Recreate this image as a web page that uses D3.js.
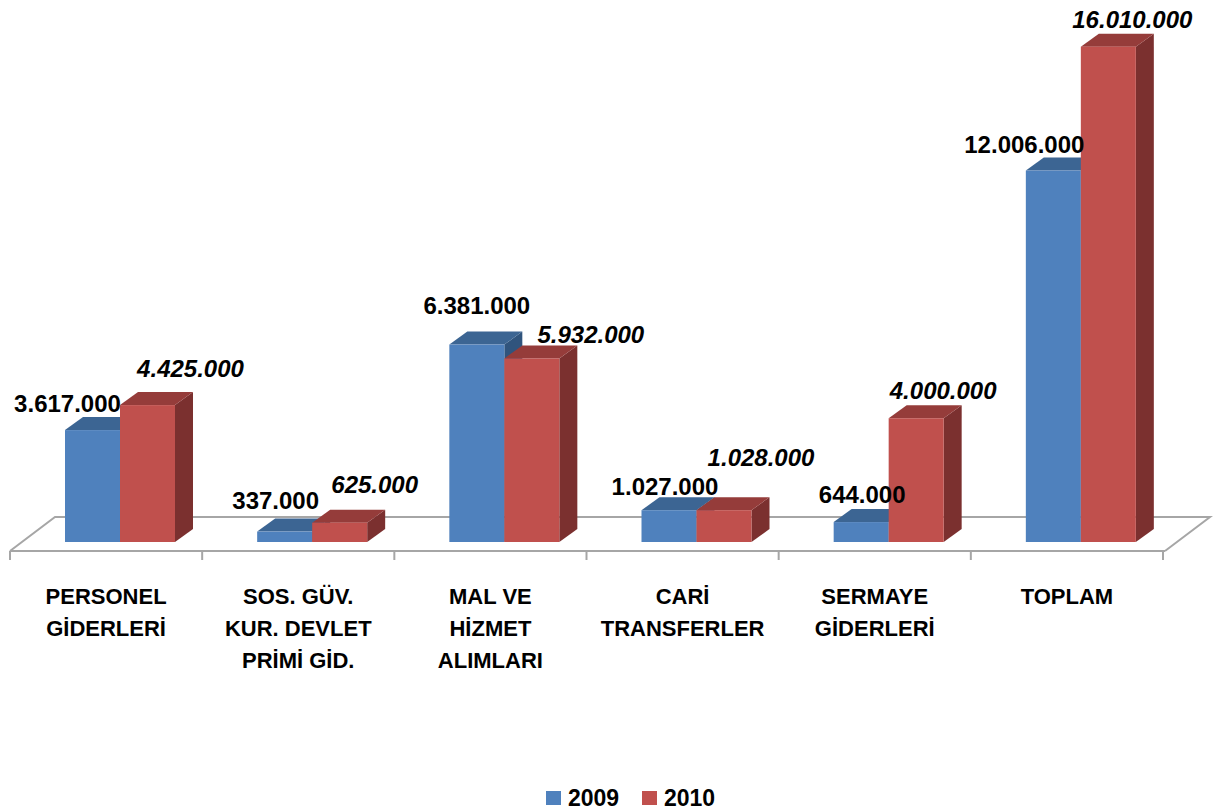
<!DOCTYPE html>
<html>
<head>
<meta charset="utf-8">
<script src="https://cdn.jsdelivr.net/npm/d3@7"></script>
<style>
  html, body { margin: 0; padding: 0; background: #ffffff; }
  svg { display: block; }
</style>
</head>
<body>
<svg id="chart" width="1213" height="810"></svg>
<script>
// ---- data ----
const categories = ["PERSONEL GİDERLERİ", "SOS. GÜV. KUR. DEVLET PRİMİ GİD.", "MAL VE HİZMET ALIMLARI", "CARİ TRANSFERLER", "SERMAYE GİDERLERİ", "TOPLAM"];
const categoryLines = [
  ["PERSONEL", "GİDERLERİ"],
  ["SOS. GÜV.", "KUR. DEVLET", "PRİMİ GİD."],
  ["MAL VE", "HİZMET", "ALIMLARI"],
  ["CARİ", "TRANSFERLER"],
  ["SERMAYE", "GİDERLERİ"],
  ["TOPLAM"]
];
const seriesNames = ["2009", "2010"];
const values2009 = [3617000, 337000, 6381000, 1027000, 644000, 12006000];
const values2010 = [4425000, 625000, 5932000, 1028000, 4000000, 16010000];

// ---- layout (label nudges relative to bar top centre) ----
const labelDx2009 = [-34, -18, -9, -13, -8, -38];
const labelDy2009 = [-5, -10, -18, -2, -6, -5];
const labelDx2010 = [34, 26, 50, 28, 18, 15];
const labelDy2010 = [-15, -17, -2, -31, -6, -6];

const colors = {
  "2009": { front: "#4F81BD", top: "#3C6593", side: "#30547D" },
  "2010": { front: "#C0504D", top: "#953C3A", side: "#7B302F" }
};

const svg = d3.select("#chart");
const fmt = d3.formatLocale({ decimal: ",", thousands: ".", grouping: [3], currency: ["", ""] }).format(",");

// scales
const x = d3.scaleBand().domain(categories).range([10, 1163]).padding(0);
const bw = x.bandwidth();
const xs = d3.scaleBand().domain(seriesNames).range([55, 165]).padding(0);
const y = d3.scaleLinear().domain([0, 17000000]).range([542, 16]);

const depthX = 18, depthY = -13;
const floorDX = 45, floorDY = -34, floorFront = 551;

// floor
const floorG = svg.append("g").attr("fill", "none").attr("stroke", "#A6A6A6").attr("stroke-width", 2);
const fl = x.range()[0], fr = x.range()[1] + 2;
floorG.append("path")
  .attr("d", `M${fl},${floorFront} L${fl + floorDX},${floorFront + floorDY} L${fr + floorDX},${floorFront + floorDY} L${fr},${floorFront}`);
floorG.append("line").attr("x1", fl).attr("x2", fr).attr("y1", floorFront).attr("y2", floorFront);
// ticks
const tickXs = categories.map(c => x(c)).concat([x.range()[1]]);
floorG.selectAll("line.tick").data(tickXs).enter().append("line")
  .attr("class", "tick")
  .attr("x1", d => d).attr("x2", d => d)
  .attr("y1", floorFront).attr("y2", floorFront + 9);

// bars
const bars = [];
categories.forEach((c, i) => {
  bars.push({ cat: c, i, series: "2009", value: values2009[i] });
  bars.push({ cat: c, i, series: "2010", value: values2010[i] });
});

const barG = svg.append("g");
bars.forEach(b => {
  const x0 = x(b.cat) + xs(b.series);
  const x1 = x0 + xs.bandwidth();
  const yt = y(b.value), yb = y(0);
  const col = colors[b.series];
  const g = barG.append("g");
  g.append("path")
    .attr("d", `M${x1},${yb} L${x1 + depthX},${yb + depthY} L${x1 + depthX},${yt + depthY} L${x1},${yt} Z`)
    .attr("fill", col.side);
  g.append("path")
    .attr("d", `M${x0},${yt} L${x0 + depthX},${yt + depthY} L${x1 + depthX},${yt + depthY} L${x1},${yt} Z`)
    .attr("fill", col.top);
  g.append("rect")
    .attr("x", x0).attr("y", yt)
    .attr("width", x1 - x0).attr("height", yb - yt)
    .attr("fill", col.front);
});

// value labels
const labG = svg.append("g")
  .attr("font-family", "'Liberation Sans', Arial, sans-serif")
  .attr("font-weight", "bold")
  .attr("font-size", 24)
  .attr("fill", "#000")
  .attr("text-anchor", "middle");
bars.forEach(b => {
  const x0 = x(b.cat) + xs(b.series);
  const cx = x0 + xs.bandwidth() / 2 + depthX / 2;
  const ty = y(b.value) + depthY;
  const dx = b.series === "2009" ? labelDx2009[b.i] : labelDx2010[b.i];
  const dy = b.series === "2009" ? labelDy2009[b.i] : labelDy2010[b.i];
  labG.append("text")
    .attr("x", cx + dx)
    .attr("y", ty + dy)
    .attr("font-style", b.series === "2010" ? "italic" : "normal")
    .text(fmt(b.value));
});

// category labels
const catG = svg.append("g")
  .attr("font-family", "'Liberation Sans', Arial, sans-serif")
  .attr("font-weight", "bold")
  .attr("font-size", 22)
  .attr("fill", "#000")
  .attr("text-anchor", "middle");
categories.forEach((c, i) => {
  const t = catG.append("text").attr("x", x(c) + bw / 2).attr("y", 603);
  categoryLines[i].forEach((ln, k) => {
    t.append("tspan").attr("x", x(c) + bw / 2).attr("y", 604 + k * 32).text(ln);
  });
});

// legend
const legG = svg.append("g")
  .attr("font-family", "'Liberation Sans', Arial, sans-serif")
  .attr("font-weight", "bold")
  .attr("font-size", 23)
  .attr("fill", "#000");
const legX = [546, 642];
seriesNames.forEach((s, k) => {
  legG.append("rect").attr("x", legX[k]).attr("y", 791).attr("width", 15).attr("height", 14).attr("fill", colors[s].front);
  legG.append("text").attr("x", legX[k] + 22).attr("y", 806).text(s);
});
</script>
</body>
</html>
